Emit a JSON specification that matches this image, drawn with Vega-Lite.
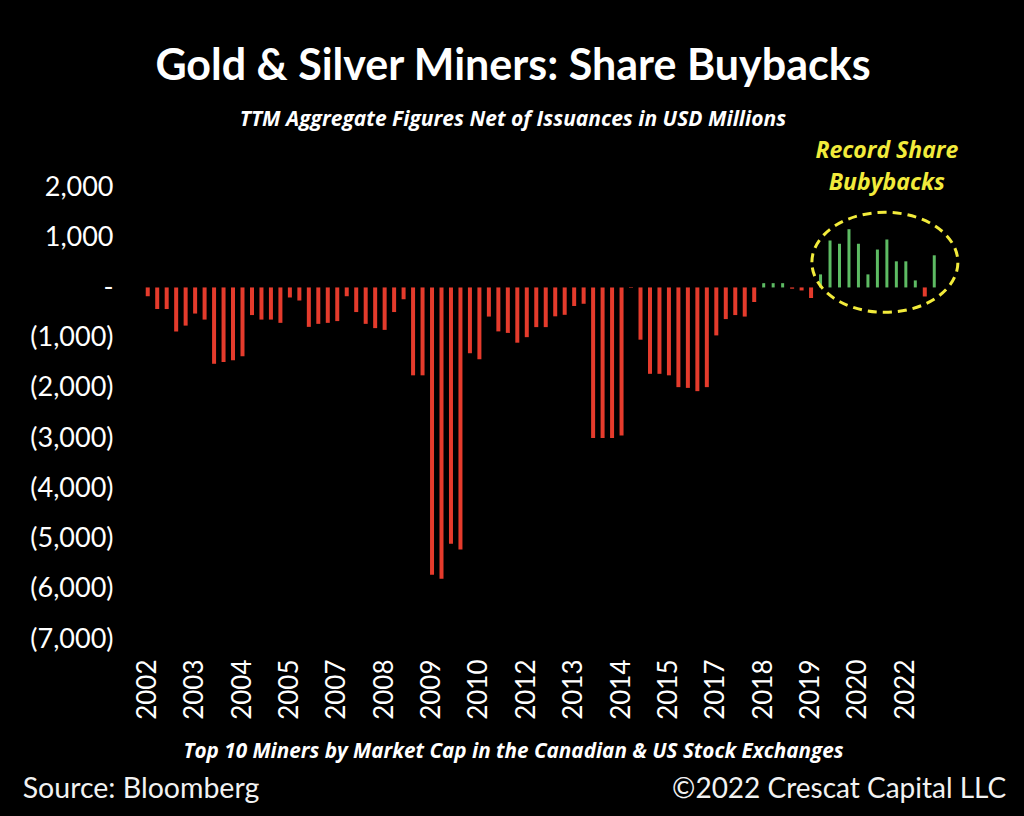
{
  "$schema": "https://vega.github.io/schema/vega-lite/v6.json",
  "description": "Gold & silver miners share buybacks, TTM net of issuances (USD millions), quarterly.",
  "width": 796,
  "height": 452,
  "autosize": {"type": "none"},
  "padding": {"left": 143, "top": 187, "right": 85, "bottom": 177},
  "background": "black",
  "config": {"view": {"stroke": null}},
  "title": {
    "text": "Gold & Silver Miners: Share Buybacks",
    "subtitle": "TTM Aggregate Figures Net of Issuances in USD Millions",
    "anchor": "middle",
    "frame": "group",
    "dx": -28,
    "offset": 10,
    "color": "white",
    "font": "Lato",
    "fontSize": 43,
    "fontWeight": "bold",
    "subtitleColor": "white",
    "subtitleFont": "Open Sans",
    "subtitleFontSize": 21,
    "subtitleFontStyle": "italic",
    "subtitleFontWeight": "bold",
    "subtitlePadding": 20
  },
  "datasets": {
    "buybacks": [
      {"q": "2002 Q1", "v": -175}, {"q": "2002 Q2", "v": -430}, {"q": "2002 Q3", "v": -430}, {"q": "2002 Q4", "v": -875},
      {"q": "2003 Q1", "v": -760}, {"q": "2003 Q2", "v": -520}, {"q": "2003 Q3", "v": -640}, {"q": "2003 Q4", "v": -1520},
      {"q": "2004 Q1", "v": -1485}, {"q": "2004 Q2", "v": -1450}, {"q": "2004 Q3", "v": -1370}, {"q": "2004 Q4", "v": -550},
      {"q": "2005 Q1", "v": -640}, {"q": "2005 Q2", "v": -640}, {"q": "2005 Q3", "v": -705}, {"q": "2005 Q4", "v": -200},
      {"q": "2006 Q1", "v": -260}, {"q": "2006 Q2", "v": -785}, {"q": "2006 Q3", "v": -725}, {"q": "2006 Q4", "v": -705},
      {"q": "2007 Q1", "v": -670}, {"q": "2007 Q2", "v": -175}, {"q": "2007 Q3", "v": -490}, {"q": "2007 Q4", "v": -725},
      {"q": "2008 Q1", "v": -810}, {"q": "2008 Q2", "v": -845}, {"q": "2008 Q3", "v": -490}, {"q": "2008 Q4", "v": -235},
      {"q": "2009 Q1", "v": -1750}, {"q": "2009 Q2", "v": -1750}, {"q": "2009 Q3", "v": -5720}, {"q": "2009 Q4", "v": -5800},
      {"q": "2010 Q1", "v": -5105}, {"q": "2010 Q2", "v": -5220}, {"q": "2010 Q3", "v": -1310}, {"q": "2010 Q4", "v": -1430},
      {"q": "2011 Q1", "v": -580}, {"q": "2011 Q2", "v": -875}, {"q": "2011 Q3", "v": -905}, {"q": "2011 Q4", "v": -1100},
      {"q": "2012 Q1", "v": -990}, {"q": "2012 Q2", "v": -790}, {"q": "2012 Q3", "v": -790}, {"q": "2012 Q4", "v": -575},
      {"q": "2013 Q1", "v": -545}, {"q": "2013 Q2", "v": -370}, {"q": "2013 Q3", "v": -325}, {"q": "2013 Q4", "v": -3000},
      {"q": "2014 Q1", "v": -3000}, {"q": "2014 Q2", "v": -3000}, {"q": "2014 Q3", "v": -2950}, {"q": "2014 Q4", "v": -10},
      {"q": "2015 Q1", "v": -1040}, {"q": "2015 Q2", "v": -1720}, {"q": "2015 Q3", "v": -1720}, {"q": "2015 Q4", "v": -1750},
      {"q": "2016 Q1", "v": -1985}, {"q": "2016 Q2", "v": -2000}, {"q": "2016 Q3", "v": -2065}, {"q": "2016 Q4", "v": -1985},
      {"q": "2017 Q1", "v": -955}, {"q": "2017 Q2", "v": -630}, {"q": "2017 Q3", "v": -550}, {"q": "2017 Q4", "v": -580},
      {"q": "2018 Q1", "v": -290}, {"q": "2018 Q2", "v": 85}, {"q": "2018 Q3", "v": 85}, {"q": "2018 Q4", "v": 85},
      {"q": "2019 Q1", "v": -25}, {"q": "2019 Q2", "v": -60}, {"q": "2019 Q3", "v": -210}, {"q": "2019 Q4", "v": 260},
      {"q": "2020 Q1", "v": 935}, {"q": "2020 Q2", "v": 870}, {"q": "2020 Q3", "v": 1160}, {"q": "2020 Q4", "v": 870},
      {"q": "2021 Q1", "v": 260}, {"q": "2021 Q2", "v": 755}, {"q": "2021 Q3", "v": 955}, {"q": "2021 Q4", "v": 520},
      {"q": "2022 Q1", "v": 520}, {"q": "2022 Q2", "v": 140}, {"q": "2022 Q3", "v": -180}, {"q": "2022 Q4", "v": 640}
    ]
  },
  "layer": [
    {
      "data": {"name": "buybacks"},
      "mark": {"type": "bar"},
      "encoding": {
        "x": {
          "field": "q",
          "type": "ordinal",
          "sort": null,
          "scale": {"paddingInner": 0.6, "paddingOuter": 0.3},
          "axis": {
            "values": ["2002 Q1", "2003 Q2", "2004 Q3", "2005 Q4", "2007 Q1", "2008 Q2", "2009 Q3", "2010 Q4", "2012 Q1",
                       "2013 Q2", "2014 Q3", "2015 Q4", "2017 Q1", "2018 Q2", "2019 Q3", "2020 Q4", "2022 Q1"],
            "labelExpr": "slice(datum.value, 0, 4)",
            "labelAngle": -90,
            "labelFont": "Lato",
            "labelFontSize": 26,
            "labelColor": "white",
            "labelPadding": 20,
            "ticks": false,
            "domain": false,
            "title": "Top 10 Miners by Market Cap in the Canadian & US Stock Exchanges",
            "titleFont": "Open Sans",
            "titleFontSize": 20.7,
            "titleFontStyle": "italic",
            "titleFontWeight": "bold",
            "titleColor": "white",
            "titleX": 370,
            "titleY": 118,
            "titleBaseline": "alphabetic"
          }
        },
        "y": {
          "field": "v",
          "type": "quantitative",
          "scale": {"domain": [-7000, 2000], "nice": false},
          "axis": {
            "values": [-7000, -6000, -5000, -4000, -3000, -2000, -1000, 0, 1000, 2000],
            "labelExpr": "datum.value == 0 ? '-' : datum.value < 0 ? '(' + format(-datum.value, ',') + ')' : format(datum.value, ',')",
            "labelFont": "Lato",
            "labelFontSize": 27,
            "labelColor": "white",
            "labelPadding": 30,
            "ticks": false,
            "domain": false,
            "grid": false,
            "title": null
          }
        },
        "color": {"condition": {"test": "datum.v >= 0", "value": "#5DBB63"}, "value": "#E53B2C"},
        "size": {"condition": {"test": "datum.v >= 0", "value": 3}, "value": 4}
      }
    },
    {
      "mark": {"type": "rule", "color": "#D9D9D9", "strokeWidth": 2},
      "encoding": {"y": {"datum": 0}}
    },
    {
      "data": {"values": [{"q": "2021 Q3", "v": 500}]},
      "mark": {
        "type": "point",
        "shape": "M -1 0 A 1 0.685 0 1 1 1 0 A 1 0.685 0 1 1 -1 0 Z",
        "size": 21316,
        "filled": false,
        "stroke": "#F2EB3B",
        "strokeWidth": 3,
        "strokeDash": [9, 6],
        "opacity": 1,
        "xOffset": -2
      },
      "encoding": {
        "x": {"field": "q", "type": "ordinal"},
        "y": {"field": "v", "type": "quantitative"}
      }
    },
    {
      "data": {"values": [{"q": "2021 Q3", "v": 2570}]},
      "mark": {
        "type": "text",
        "text": ["Record Share", "Bubybacks"],
        "lineHeight": 32,
        "font": "Open Sans",
        "fontSize": 23,
        "fontStyle": "italic",
        "fontWeight": "bold",
        "color": "#F2EB3B",
        "align": "center",
        "baseline": "alphabetic"
      },
      "encoding": {
        "x": {"field": "q", "type": "ordinal"},
        "y": {"field": "v", "type": "quantitative"}
      }
    },
    {
      "data": {"values": [{"q": "2002 Q1", "v": -10160, "t": "Source: Bloomberg"}]},
      "mark": {"type": "text", "font": "Lato", "fontSize": 28.5, "color": "#F2F2F2", "align": "left", "baseline": "alphabetic", "dx": -125},
      "encoding": {
        "x": {"field": "q", "type": "ordinal"},
        "y": {"field": "v", "type": "quantitative"},
        "text": {"field": "t"}
      }
    },
    {
      "data": {"values": [{"q": "2022 Q4", "v": -10160, "t": "©2022 Crescat Capital LLC"}]},
      "mark": {"type": "text", "font": "Lato", "fontSize": 28, "color": "#F2F2F2", "align": "right", "baseline": "alphabetic", "dx": 72},
      "encoding": {
        "x": {"field": "q", "type": "ordinal"},
        "y": {"field": "v", "type": "quantitative"},
        "text": {"field": "t"}
      }
    }
  ]
}
